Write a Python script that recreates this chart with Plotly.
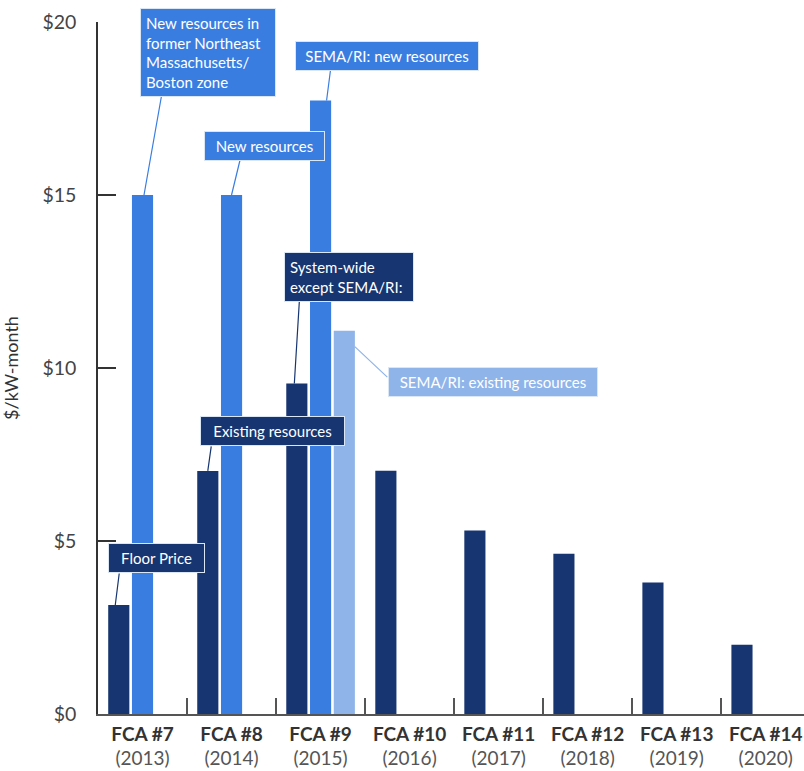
import plotly.graph_objects as go

categories = ["FCA #7", "FCA #8", "FCA #9", "FCA #10", "FCA #11", "FCA #12", "FCA #13", "FCA #14"]
years = ["2013", "2014", "2015", "2016", "2017", "2018", "2019", "2020"]
system_existing = [3.15, 7.025, 9.55, 7.03, 5.30, 4.63, 3.80, 2.00]
new_resources = [15.0, 15.0, 17.73, None, None, None, None, None]
sema_existing = [None, None, 11.08, None, None, None, None, None]
y_ticks = [0, 5, 10, 15, 20]
y_ticktext = ["$0", "$5", "$10", "$15", "$20"]

DARK = "#173570"
MED = "#3a7de0"
LIGHT = "#8fb4ea"
FONT = "Lato"

fig = go.Figure()
for vals, col, name in [(system_existing, DARK, "System-wide"),
                        (new_resources, MED, "New resources"),
                        (sema_existing, LIGHT, "SEMA/RI existing")]:
    fig.add_trace(go.Bar(x=categories, y=vals, marker=dict(color=col, line=dict(width=0)),
                         name=name, hoverinfo="skip"))

ticktext = [f"<b>{c}</b><br><span style='color:#555555'>({y})</span>" for c, y in zip(categories, years)]

def idx(c):
    return categories.index(c)

slot = 0.8 / 3
# anchor point (bar top), box shift (px), line tip shift (px), line tail offset (px), colour, align, box text width
notes = [
    ("New resources in<br>former Northeast<br>Massachusetts/<br>Boston zone",
     idx("FCA #7"), new_resources[0], (65.5, 143), (1.5, 0), (18, -102), MED, "left", 124),
    ("New resources", idx("FCA #8"), new_resources[1], (33, 49), (0, 0), (8.5, -35), MED, "center", 109),
    ("SEMA/RI: new resources", idx("FCA #9"), new_resources[2], (66, 45), (6, 0), (4, -31), MED, "center", 172),
    ("System-wide<br>except SEMA/RI:", idx("FCA #9") - slot, system_existing[2], (52.5, 106.5), (-2.5, 0), (5, -82), DARK, "left", 118),
    ("SEMA/RI: existing resources", idx("FCA #9") + slot, sema_existing[2], (148.5, -51.5), (10.5, -16), (33, 31), LIGHT, "center", 198),
    ("Existing resources", idx("FCA #8") - slot, system_existing[1], (65, 39.5), (0, 0), (3.5, -25), DARK, "center", 133),
    ("Floor Price", idx("FCA #7") - slot, system_existing[0], (38, 47), (-3.5, 0), (4, -32), DARK, "center", 85),
]
# connector lines first
for text, x, y, bshift, tshift, tail, col, al, w in notes:
    fig.add_annotation(x=x, y=y, xref="x", yref="y", text="", showarrow=True,
                       arrowhead=0, arrowwidth=1.2, arrowcolor=col,
                       ax=tail[0], ay=tail[1], xshift=tshift[0], yshift=tshift[1],
                       borderpad=0)
# label boxes on top
for text, x, y, bshift, tshift, tail, col, al, w in notes:
    fig.add_annotation(x=x, y=y, xref="x", yref="y", text=text, showarrow=False,
                       xshift=bshift[0], yshift=bshift[1], width=w,
                       bgcolor=col, bordercolor="#dbe6f5", borderwidth=1, borderpad=5,
                       align=al,
                       font=dict(family=FONT, size=15, color="white"))

fig.update_layout(
    width=804, height=771,
    margin=dict(l=98, r=0, t=22, b=57, autoexpand=False),
    paper_bgcolor="white", plot_bgcolor="white",
    barmode="group", bargap=0.2, bargroupgap=0.11,
    showlegend=False,
    font=dict(family=FONT, color="#333333"),
    xaxis=dict(type="category", range=[-0.5, 7.43], tickmode="array", tickvals=categories,
               ticktext=ticktext, tickson="boundaries", ticks="inside", ticklen=16,
               tickwidth=1.5, tickcolor="#555555", showline=True, linecolor="#555555",
               linewidth=1.5, showgrid=False, zeroline=False,
               tickfont=dict(family=FONT, size=19, color="#333333"), ticklabelstandoff=2),
    yaxis=dict(range=[0, 20], tickmode="array", tickvals=y_ticks, ticktext=y_ticktext,
               ticks="inside", ticklen=18, tickwidth=1.5, tickcolor="#333333",
               showline=True, linecolor="#333333", linewidth=1.5, showgrid=False,
               zeroline=False, tickfont=dict(family=FONT, size=19.5, color="#444444"),
               ticklabelstandoff=16,
               title=dict(text="$/kW-month", font=dict(family=FONT, size=18, color="#333333"),
                          standoff=22)),
)

fig.write_html("out.html")
